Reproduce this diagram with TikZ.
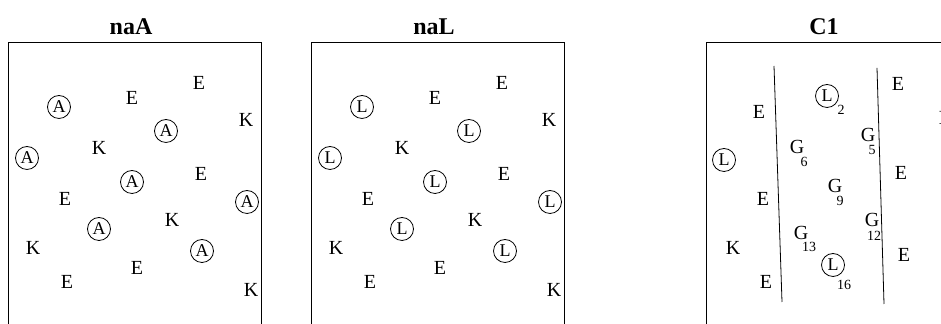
\documentclass[tikz,border=0pt]{standalone}
\usepackage{fontspec}
\setmainfont{Liberation Serif}
\begin{document}
\begin{tikzpicture}[x=0.5pt, y=-0.5pt,
    ring/.style={circle, draw, inner sep=0pt, minimum size=11.5pt, font=\small},
    res/.style={font=\normalsize, inner sep=1pt},
    idx/.style={font=\scriptsize, inner sep=0pt}]
    \clip (0,0) rectangle (941,324);

    % Left and middle: naA and naL with scattered residues
    \foreach \q/\dx/\lab/\aa in {a/0/naA/A, l/303/naL/L} {
        \node[font=\large\bfseries] (\q-title) at ({131+\dx},27) {\lab};
        \draw ({8+\dx},42) rectangle ({261+\dx},340);
        \foreach \i/\x/\y in {1/59/107, 2/166/131, 3/27/158, 4/132/182, 5/247/202, 6/99/229, 7/202/251} {
            \node[ring] (\q-r\i) at ({\x+\dx},\y) {\aa};
        }
        \foreach \i/\t/\x/\y in {1/E/132/98, 2/E/199/83, 3/K/246/120, 4/K/99/148, 5/E/201/174, 6/E/65/199,
                                 7/K/172/220, 8/K/33/248, 9/E/137/268, 10/E/67/282, 11/K/251/290} {
            \node[res] (\q-s\i) at ({\x+\dx},\y) {\t};
        }
    }

    % Right: C1 with two dividing lines
    \node[font=\large\bfseries] (c-title) at (824,27) {C1};
    \draw (706,42) rectangle (960,340);
    \coordinate (c-t1) at (774,66);
    \coordinate (c-b1) at (782,302);
    \coordinate (c-t2) at (877,68);
    \coordinate (c-b2) at (884,304);
    \draw (c-t1) -- (c-b1);
    \draw (c-t2) -- (c-b2);

    \node[ring] (c-r1) at (827,96) {L};
    \node[ring] (c-r2) at (724,160) {L};
    \node[ring] (c-r3) at (833,265) {L};
    \node[idx] (c-n1) at (841,110) {2};
    \node[idx] (c-n3) at (844,285) {16};

    \foreach \i/\x/\y/\n/\nx/\ny in {6/797/147/6/804/162, 5/868/135/5/872/150, 9/835/186/9/840/201,
                                     12/872/220/12/874/236, 13/801/233/13/809/247} {
        \node[res] (c-g\i) at (\x,\y) {G};
        \node[idx] (c-gi\i) at (\nx,\ny) {\n};
    }
    \foreach \i/\t/\x/\y in {1/E/759/112, 2/E/898/84, 3/K/946/118, 4/E/901/173, 5/E/763/199,
                             6/K/733/248, 7/E/904/255, 8/E/766/282} {
        \node[res] (c-s\i) at (\x,\y) {\t};
    }
\end{tikzpicture}
\end{document}
